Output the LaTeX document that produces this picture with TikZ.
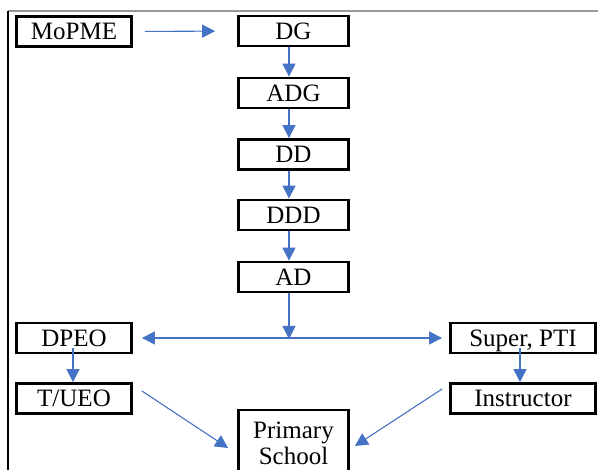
\documentclass[tikz,border=0pt]{standalone}
\usepackage{fontspec}
\setmainfont{Liberation Serif}
\usetikzlibrary{arrows.meta}
\definecolor{arrblue}{RGB}{68,114,196}
\begin{document}
\begin{tikzpicture}[x=1pt,y=-1pt,
  box/.style={draw=black, line width=2.8pt, fill=white, inner sep=0pt, minimum height=30pt,
    font=\fontsize{25}{27}\selectfont, text depth=0pt, align=center},
  arr/.style={draw=arrblue, line width=1.1pt, -{Triangle[length=13pt,width=13pt]}},
  arrboth/.style={draw=arrblue, line width=1.1pt, {Triangle[length=13pt,width=13pt]}-{Triangle[length=13pt,width=13pt]}}
]
\useasboundingbox (0,0) rectangle (598,470);
\begin{scope}
\clip (0,0) rectangle (598,470);
% frame lines
\draw[gray!80, line width=1.5pt] (8,11) -- (598,11);
\draw[black, line width=2pt] (8,11) -- (8,470);

\node[box, minimum width=115pt] (mopme) at (74,31.5) {MoPME};
\node[box, minimum width=110pt] (dg) at (293.5,31) {DG};
\node[box, minimum width=110pt] (adg) at (293.5,93) {ADG};
\node[box, minimum width=110pt] (dd) at (293.5,154.5) {DD};
\node[box, minimum width=110pt] (ddd) at (293.5,215) {DDD};
\node[box, minimum width=110pt] (ad) at (293.5,277) {AD};
\node[box, minimum width=115pt] (dpeo) at (74,338) {DPEO};
\node[box, minimum width=115pt] (tueo) at (74,398.5) {T/UEO};
\node[box, minimum width=145pt] (super) at (523,338) {Super, PTI};
\node[box, minimum width=145pt] (instr) at (523,398.5) {Instructor};
\node[box, minimum width=110pt, minimum height=66pt, font=\fontsize{25}{26}\selectfont] (prim) at (293.5,443) {Primary\\School};

\coordinate (junc) at (289,339);

\draw[arr, shorten <=12pt, shorten >=22pt] (mopme.east) -- (dg.west);
\draw[arr] ([xshift=-4.5pt]dg.south) -- ([xshift=-4.5pt]adg.north);
\draw[arr] ([xshift=-4.5pt]adg.south) -- ([xshift=-4.5pt]dd.north);
\draw[arr] ([xshift=-4.5pt]dd.south) -- ([xshift=-4.5pt]ddd.north);
\draw[arr] ([xshift=-4.5pt]ddd.south) -- ([xshift=-4.5pt]ad.north);
\draw[arr] ([xshift=-4.5pt]ad.south) -- (junc);
\draw[arrboth, shorten <=9pt, shorten >=7pt] (dpeo.east) -- (super.west);
\draw[arr, shorten <=-6pt] ([xshift=-1pt]dpeo.south) -- ([xshift=-1pt]tueo.north);
\draw[arr, shorten <=-6pt] ([xshift=-3pt]super.south) -- ([xshift=-3pt]instr.north);
\draw[arr] ([shift={(9pt,7.5pt)}]tueo.east) -- ([shift={(-9pt,-5pt)}]prim.west);
\draw[arr] ([shift={(-7pt,9.5pt)}]instr.west) -- ([shift={(5pt,-3pt)}]prim.east);
\end{scope}
\end{tikzpicture}
\end{document}
